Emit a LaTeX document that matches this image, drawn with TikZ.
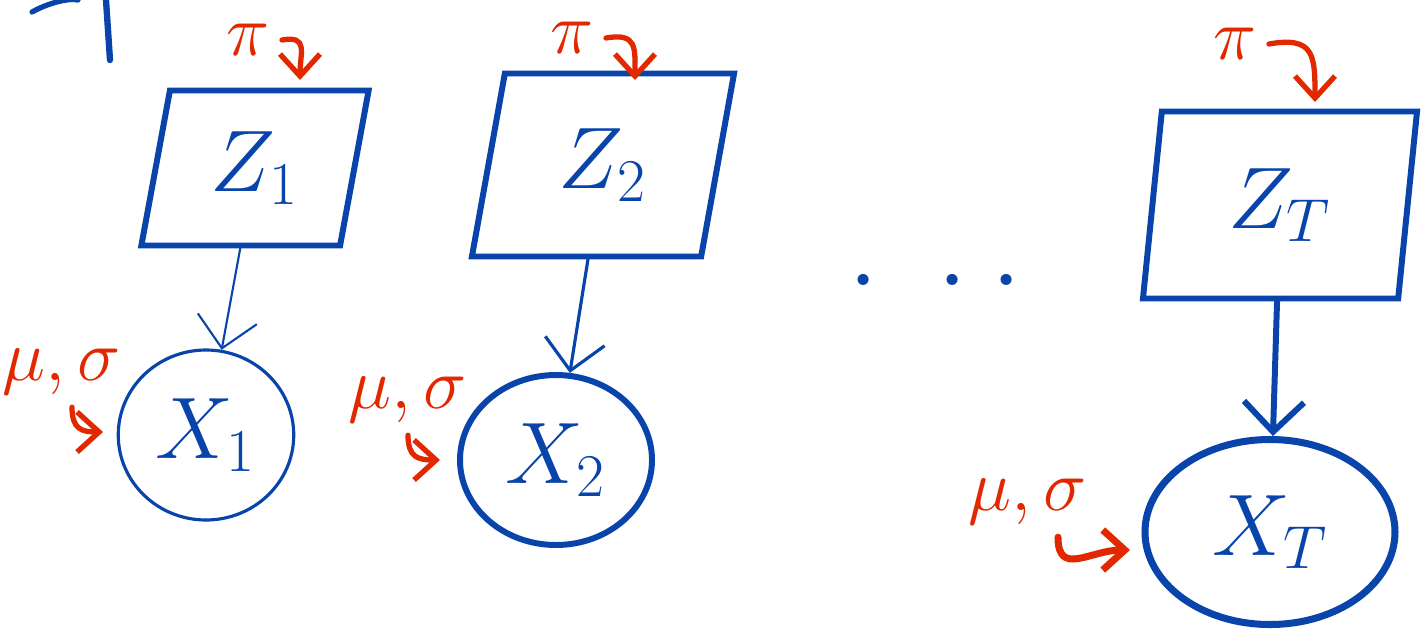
\documentclass[tikz,border=0pt]{standalone}
\usepackage{amsmath}
\usetikzlibrary{shapes.geometric,arrows.meta}
\definecolor{inkblue}{RGB}{8,68,170}
\definecolor{inkred}{RGB}{226,40,0}
\tikzset{
  zbox/.style={draw=inkblue, text=inkblue, trapezium, trapezium stretches=true,
    trapezium left angle=79, trapezium right angle=101, line width=1.7pt,
    font=\fontsize{26}{30}\selectfont},
  xcirc/.style={draw=inkblue, text=inkblue, ellipse, line width=1.7pt,
    font=\fontsize{26}{30}\selectfont},
  param/.style={text=inkred, font=\fontsize{22}{26}\selectfont},
  hookarr/.style={draw=inkred, line width=1.5pt, line cap=round,
    -{Straight Barb[length=2.2mm,width=4mm]}},
  downarr/.style={draw=inkblue, line cap=round,
    -{Straight Barb[length=3mm,width=6mm]}}
}
\begin{document}
\begin{tikzpicture}[x=0.1mm, y=-0.1mm]
\useasboundingbox (0,0) rectangle (1421,628);
% hidden nodes
\node[zbox, minimum width=22.8mm, minimum height=15.5mm] (z1) at (255,168) {$Z_1$};
\node[zbox, minimum width=26.3mm, minimum height=18.3mm] (z2) at (603,165) {$Z_2$};
\node[zbox, minimum width=27.5mm, minimum height=18.7mm, trapezium left angle=84, trapezium right angle=96] (zT) at (1280,205) {$Z_T$};
% observed nodes
\node[xcirc, minimum width=16.3mm, minimum height=17mm, line width=0.9pt] (x1) at (206,435) {$X_1$};
\node[xcirc, minimum width=19.2mm, minimum height=17mm] (x2) at (556,460) {$X_2$};
\node[xcirc, minimum width=25mm, minimum height=18.5mm, line width=2pt] (xT) at (1270,532) {$X_T$};
% parameters
\node[param] (p1) at (248,40) {$\pi$};
\node[param] (p2) at (572,38) {$\pi$};
\node[param] (pT) at (1235,44) {$\pi$};
\node[param] (m1) at (62,372) {$\mu,\sigma$};
\node[param] (m2) at (408,400) {$\mu,\sigma$};
\node[param] (mT) at (1028,502) {$\mu,\sigma$};
\coordinate (h1) at (300,80);
\coordinate (h2) at (635,80);
\coordinate (hT) at (1315,102);
\coordinate (g1) at (103,432);
\coordinate (g2) at (440,460);
\coordinate (gT) at (1130,550);
\draw[hookarr] (p1.east) to[out=10,in=90,looseness=1.6] (h1);
\draw[hookarr] (p2.east) to[out=10,in=90,looseness=1.6] (h2);
\draw[hookarr] (pT.east) to[out=10,in=90,looseness=1.6] (hT);
\draw[hookarr] ([xshift=1mm]m1.south) to[out=-90,in=180,looseness=1.4] (g1);
\draw[hookarr] ([xshift=0mm]m2.south) to[out=-90,in=180,looseness=1.4] (g2);
\draw[hookarr, line width=2pt] ([xshift=3mm]mT.south) to[out=-90,in=180,looseness=1.4] (gT);
% emissions
\draw[downarr, line width=0.6pt] (z1) -- (x1);
\draw[downarr, line width=0.9pt] (z2) -- (x2);
\draw[downarr, line width=1.7pt] (zT) -- (xT);
% dots
\node[text=inkblue, font=\fontsize{22}{26}\selectfont\bfseries] (dots) at (935,280) {.\hspace{6.5mm}.\hspace{3mm}.};
% cut stroke top left
\draw[inkblue, line width=1.5pt, line cap=round] (32,12) .. controls (50,2) and (70,-2) .. (78,0);
\draw[inkblue, line width=1.8pt, line cap=round] (106,0) -- (110,60);
\end{tikzpicture}
\end{document}
